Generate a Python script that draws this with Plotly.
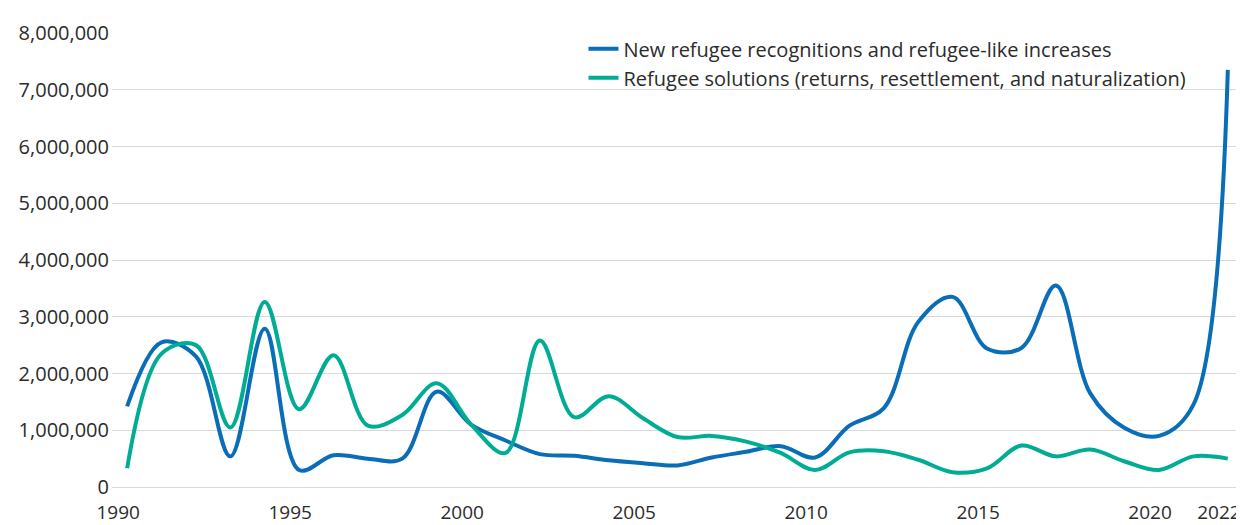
import plotly.graph_objects as go

years = list(range(1990, 2023))

new_recognitions = [
    1.42e6, 2.55e6, 2.30e6, 0.54e6, 2.79e6, 0.30e6, 0.56e6, 0.50e6, 0.50e6, 1.68e6,
    1.10e6, 0.82e6, 0.58e6, 0.55e6, 0.47e6, 0.42e6, 0.38e6, 0.52e6, 0.62e6, 0.72e6,
    0.52e6, 1.08e6, 1.39e6, 2.91e6, 3.35e6, 2.44e6, 2.45e6, 3.55e6, 1.65e6, 1.04e6,
    0.90e6, 1.45e6, 7.35e6,
]

solutions = [
    0.33e6, 2.35e6, 2.50e6, 1.05e6, 3.26e6, 1.37e6, 2.32e6, 1.08e6, 1.27e6, 1.83e6,
    1.10e6, 0.60e6, 2.58e6, 1.23e6, 1.60e6, 1.21e6, 0.88e6, 0.90e6, 0.80e6, 0.60e6,
    0.30e6, 0.61e6, 0.63e6, 0.48e6, 0.26e6, 0.33e6, 0.73e6, 0.54e6, 0.66e6, 0.45e6,
    0.30e6, 0.54e6, 0.50e6,
]

series_names = [
    "New refugee recognitions and refugee-like increases",
    "Refugee solutions (returns, resettlement, and naturalization)",
]

x_tick_years = [1990, 1995, 2000, 2005, 2010, 2015, 2020, 2022]
y_tick_values = [0, 1e6, 2e6, 3e6, 4e6, 5e6, 6e6, 7e6, 8e6]
y_tick_labels = ["0", "1,000,000", "2,000,000", "3,000,000", "4,000,000",
                 "5,000,000", "6,000,000", "7,000,000", "8,000,000"]

BLUE = "#0a6db7"
TEAL = "#00ad94"
TEXT = "#2b2b2b"
FONT = "'Open Sans', Lato, sans-serif"

fig = go.Figure()
fig.add_trace(go.Scatter(
    x=years, y=new_recognitions, name=series_names[0], mode="lines",
    line=dict(color=BLUE, width=4, shape="spline", smoothing=1.0),
))
fig.add_trace(go.Scatter(
    x=years, y=solutions, name=series_names[1], mode="lines",
    line=dict(color=TEAL, width=4, shape="spline", smoothing=1.0),
))

fig.update_layout(
    width=1236, height=517,
    margin=dict(l=104, r=0, t=25, b=36),
    paper_bgcolor="white", plot_bgcolor="white",
    font=dict(family=FONT, size=20, color=TEXT),
    showlegend=True,
    legend=dict(
        x=0.4165, y=1.008, xanchor="left", yanchor="top",
        bgcolor="rgba(0,0,0,0)", font=dict(size=20, color=TEXT),
        tracegroupgap=0, itemwidth=30,
    ),
    xaxis=dict(
        range=[1989.56, 2022.47],
        tickmode="array",
        tickvals=[y - 0.26 for y in x_tick_years],
        ticktext=[str(y) for y in x_tick_years],
        showgrid=False, zeroline=False, showline=False,
        ticks="outside", ticklen=8, tickcolor="rgba(0,0,0,0)",
        tickfont=dict(size=19, color=TEXT),
    ),
    yaxis=dict(
        range=[0, 8e6],
        tickmode="array",
        tickvals=y_tick_values,
        ticktext=y_tick_labels,
        showgrid=True, gridcolor="#d9d9d9", gridwidth=1,
        zeroline=True, zerolinecolor="#d9d9d9", zerolinewidth=1,
        showline=False, ticks="", ticklabelstandoff=2,
        tickfont=dict(size=20, color=TEXT),
    ),
)

fig.write_html("out.html")
